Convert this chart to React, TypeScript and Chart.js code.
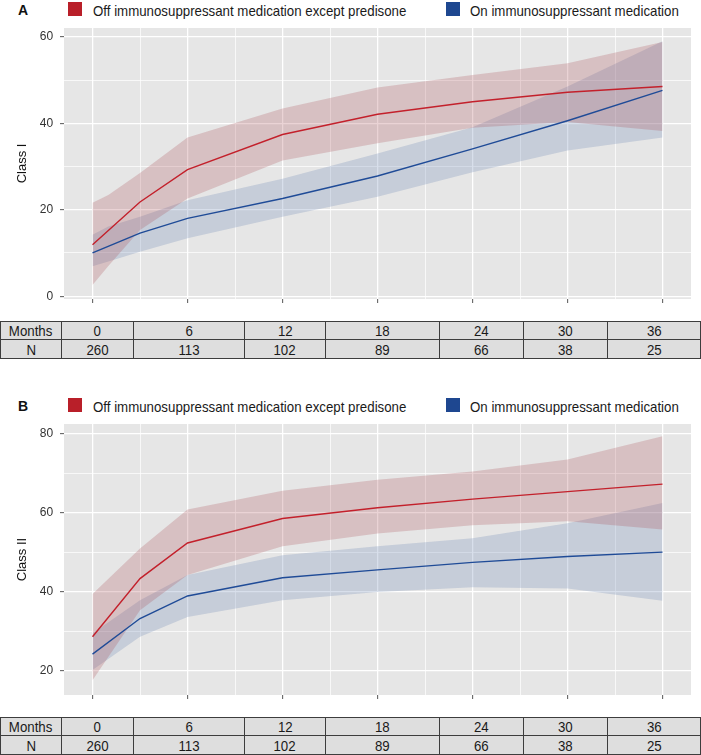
import React, { useEffect, useRef } from "react";
import { Chart, registerables } from "chart.js";

Chart.register(...registerables);

// ---------- data ----------
const LINE_MONTHS = [0, 3, 6, 12, 18, 24, 30, 36];
const BAND_MONTHS_A = [0, 1, 3, 6, 12, 18, 24, 30, 36];
const BAND_MONTHS_B = [0, 3, 6, 12, 18, 24, 30, 36];

const A_OFF_MEAN = [11.9, 21.8, 29.3, 37.4, 42.1, 45.0, 47.2, 48.5];
const A_ON_MEAN = [10.0, 14.6, 18.0, 22.6, 27.8, 34.1, 40.6, 47.6];
const A_OFF_UPPER = [21.6, 23.4, 28.5, 36.7, 43.4, 48.3, 51.2, 53.9, 58.8];
const A_OFF_LOWER = [2.6, 7.0, 15.3, 22.6, 31.4, 35.4, 39.0, 40.3, 38.2];
const A_ON_UPPER = [14.2, 16.1, 18.4, 22.2, 27.2, 33.0, 39.1, 48.5, 59.0];
const A_ON_LOWER = [6.9, 8.0, 10.3, 13.4, 18.4, 23.0, 28.7, 33.7, 36.7];

const B_OFF_MEAN = [28.7, 43.4, 52.4, 58.6, 61.3, 63.5, 65.4, 67.3];
const B_ON_MEAN = [24.3, 33.3, 39.0, 43.6, 45.6, 47.5, 49.0, 50.1];
const B_OFF_UPPER = [39.5, 51.0, 60.9, 65.6, 68.4, 70.5, 73.5, 79.4];
const B_OFF_LOWER = [17.7, 35.4, 44.3, 51.6, 54.8, 56.9, 57.9, 55.8];
const B_ON_UPPER = [29.6, 37.9, 44.3, 49.3, 51.6, 53.6, 57.4, 62.5];
const B_ON_LOWER = [20.3, 28.7, 33.7, 37.9, 40.0, 41.2, 40.9, 37.8];

const X_GRID = [0, 3, 6, 9, 12, 15, 18, 21, 24, 27, 30, 33, 36];
const X_MAJOR = [0, 6, 12, 18, 24, 30, 36];
const A_Y_GRID = [0, 10, 20, 30, 40, 50, 60];
const A_Y_LABELS = [0, 20, 40, 60];
const B_Y_GRID = [20, 30, 40, 50, 60, 70, 80];
const B_Y_LABELS = [20, 40, 60, 80];

const TABLE_MONTHS = ["0", "6", "12", "18", "24", "30", "36"];
const TABLE_N = ["260", "113", "102", "89", "66", "38", "25"];

const LEGEND_OFF = "Off immunosuppressant medication except predisone";
const LEGEND_ON = "On immunosuppressant medication";

// ---------- styles ----------
const FONT = "'Liberation Sans', Arial, Helvetica, sans-serif";
const RED_LINE = "#c3202b";
const BLUE_LINE = "#1f4b97";
const RED_BAND = "rgba(170,78,86,0.25)";
const BLUE_BAND = "rgba(110,138,182,0.27)";
const RED_KEY = "#b91f29";
const BLUE_KEY = "#1e4790";
const PANEL_BG = "#e6e6e6";
const COL_EDGES = [0, 61, 133, 244, 325, 439, 523, 607, 700];

const pts = (xs: number[], ys: number[]) => ys.map((y, i) => ({ x: xs[i], y }));

const bgPlugin = {
  id: "panelBg",
  beforeDraw(chart: any) {
    const { ctx, chartArea } = chart;
    ctx.save();
    ctx.fillStyle = PANEL_BG;
    ctx.fillRect(chartArea.left, chartArea.top, chartArea.right - chartArea.left, chartArea.bottom - chartArea.top);
    ctx.restore();
  },
};

type PanelProps = {
  top: number;
  letter: string;
  yTitle: string;
  yMin: number;
  yMax: number;
  yGrid: number[];
  yLabels: number[];
  bandMonths: number[];
  offMean: number[];
  onMean: number[];
  offUp: number[];
  offLo: number[];
  onUp: number[];
  onLo: number[];
};

function CondensedText({ text, size, style }: { text: string; size: number; style?: any }) {
  return (
    <span
      style={{
        display: "inline-block",
        fontFamily: FONT,
        fontSize: size,
        lineHeight: 1,
        color: "#1a1a1a",
        transform: "scaleX(0.885)",
        whiteSpace: "nowrap",
        ...style,
      }}
    >
      {text}
    </span>
  );
}

function Panel(p: PanelProps) {
  const ref = useRef<HTMLCanvasElement | null>(null);

  useEffect(() => {
    if (!ref.current) return;
    const bandDs = (data: any[], fill: any, color: string) => ({
      type: "line" as const,
      data,
      borderWidth: 0,
      borderColor: "rgba(0,0,0,0)",
      backgroundColor: color,
      pointRadius: 0,
      fill,
      tension: 0,
    });
    const chart = new Chart(ref.current, {
      type: "line",
      data: {
        datasets: [
          {
            label: LEGEND_OFF,
            data: pts(LINE_MONTHS, p.offMean),
            borderColor: RED_LINE,
            borderWidth: 1.4,
            pointRadius: 0,
            fill: false,
            tension: 0,
          },
          {
            label: LEGEND_ON,
            data: pts(LINE_MONTHS, p.onMean),
            borderColor: BLUE_LINE,
            borderWidth: 1.4,
            pointRadius: 0,
            fill: false,
            tension: 0,
          },
          bandDs(pts(p.bandMonths, p.offUp), "+1", RED_BAND),
          bandDs(pts(p.bandMonths, p.offLo), false, RED_BAND),
          bandDs(pts(p.bandMonths, p.onUp), "+1", BLUE_BAND),
          bandDs(pts(p.bandMonths, p.onLo), false, BLUE_BAND),
        ] as any,
      },
      options: {
        animation: false,
        responsive: false,
        maintainAspectRatio: false,
        devicePixelRatio: 1,
        layout: { padding: { left: 0, right: 10, top: 0, bottom: 0 } },
        plugins: {
          legend: { display: false },
          tooltip: { enabled: false },
        },
        scales: {
          x: {
            type: "linear",
            min: -1.8,
            max: 37.8,
            border: { display: false },
            afterBuildTicks: (s: any) => {
              s.ticks = X_GRID.map((v) => ({ value: v }));
            },
            afterFit: (s: any) => {
              s.height = 11;
            },
            ticks: { display: false, autoSkip: false },
            grid: {
              drawTicks: true,
              tickLength: 4,
              color: "#ffffff",
              lineWidth: (c: any) => (X_MAJOR.includes(c.tick?.value) ? 1.3 : 0.7),
              tickColor: (c: any) => (X_MAJOR.includes(c.tick?.value) ? "#555555" : "rgba(0,0,0,0)"),
              tickWidth: 1,
            },
          },
          y: {
            type: "linear",
            min: p.yMin,
            max: p.yMax,
            border: { display: false },
            afterBuildTicks: (s: any) => {
              s.ticks = p.yGrid.map((v) => ({ value: v }));
            },
            afterFit: (s: any) => {
              s.width = 64;
            },
            ticks: {
              autoSkip: false,
              padding: 6.8,
              color: "#333333",
              font: { family: FONT, size: 12 },
              callback: (v: any) => (p.yLabels.includes(Number(v)) ? String(v) : ""),
            },
            title: {
              display: true,
              text: p.yTitle,
              color: "#111111",
              font: { family: FONT, size: 13 },
              padding: { top: 15, bottom: 0 },
            },
            grid: {
              drawTicks: true,
              tickLength: 4,
              color: "#ffffff",
              lineWidth: (c: any) => (p.yLabels.includes(c.tick?.value) ? 1.3 : 0.7),
              tickColor: (c: any) => (p.yLabels.includes(c.tick?.value) ? "#555555" : "rgba(0,0,0,0)"),
              tickWidth: 1,
            },
          },
        },
      } as any,
      plugins: [bgPlugin],
    });
    return () => chart.destroy();
  }, []);

  const tableTop = 321;
  const rows = [
    ["Months", ...TABLE_MONTHS],
    ["N", ...TABLE_N],
  ];
  const rowTops = [0, 18];
  const rowHeights = [18, 19];

  return (
    <div style={{ position: "absolute", left: 0, top: p.top, width: 701, height: 362 }}>
      <div
        style={{
          position: "absolute",
          left: 18,
          top: 2.5,
          fontFamily: FONT,
          fontWeight: "bold",
          fontSize: 14,
          lineHeight: 1,
          color: "#111",
        }}
      >
        {p.letter}
      </div>
      <div style={{ position: "absolute", left: 68, top: 2, width: 14, height: 14, background: RED_KEY }} />
      <div style={{ position: "absolute", left: 93, top: 1.6 }}>
        <CondensedText text={LEGEND_OFF} size={15} style={{ transformOrigin: "left center" }} />
      </div>
      <div style={{ position: "absolute", left: 446, top: 2, width: 14, height: 14, background: BLUE_KEY }} />
      <div style={{ position: "absolute", left: 470, top: 1.6 }}>
        <CondensedText text={LEGEND_ON} size={15} style={{ transformOrigin: "left center" }} />
      </div>
      <canvas
        ref={ref}
        width={701}
        height={299}
        style={{ position: "absolute", left: 0, top: 14, width: 701, height: 299 }}
      />
      <div
        style={{
          position: "absolute",
          left: COL_EDGES[0],
          top: tableTop,
          width: COL_EDGES[COL_EDGES.length - 1] - COL_EDGES[0] + 1,
          height: 38,
          background: "#3d3d3d",
        }}
      >
        {rows.map((row, ri) =>
          row.map((cell, ci) => (
            <div
              key={ri + "-" + ci}
              style={{
                position: "absolute",
                left: COL_EDGES[ci] + 1,
                top: rowTops[ri] + 1,
                width: COL_EDGES[ci + 1] - COL_EDGES[ci] - 1,
                height: rowHeights[ri] - 1,
                background: "#dedede",
                display: "flex",
                alignItems: "center",
                justifyContent: "center",
                overflow: "hidden",
              }}
            >
              <CondensedText text={cell} size={15} style={{ transformOrigin: "center center" }} />
            </div>
          ))
        )}
      </div>
    </div>
  );
}

export default function App() {
  return (
    <div style={{ position: "absolute", left: 0, top: 0, width: 701, height: 755, background: "#ffffff" }}>
      <Panel
        top={0}
        letter="A"
        yTitle="Class I"
        yMin={-0.65}
        yMax={62.05}
        yGrid={A_Y_GRID}
        yLabels={A_Y_LABELS}
        bandMonths={BAND_MONTHS_A}
        offMean={A_OFF_MEAN}
        onMean={A_ON_MEAN}
        offUp={A_OFF_UPPER}
        offLo={A_OFF_LOWER}
        onUp={A_ON_UPPER}
        onLo={A_ON_LOWER}
      />
      <Panel
        top={396}
        letter="B"
        yTitle="Class II"
        yMin={13.95}
        yMax={82.5}
        yGrid={B_Y_GRID}
        yLabels={B_Y_LABELS}
        bandMonths={BAND_MONTHS_B}
        offMean={B_OFF_MEAN}
        onMean={B_ON_MEAN}
        offUp={B_OFF_UPPER}
        offLo={B_OFF_LOWER}
        onUp={B_ON_UPPER}
        onLo={B_ON_LOWER}
      />
    </div>
  );
}
